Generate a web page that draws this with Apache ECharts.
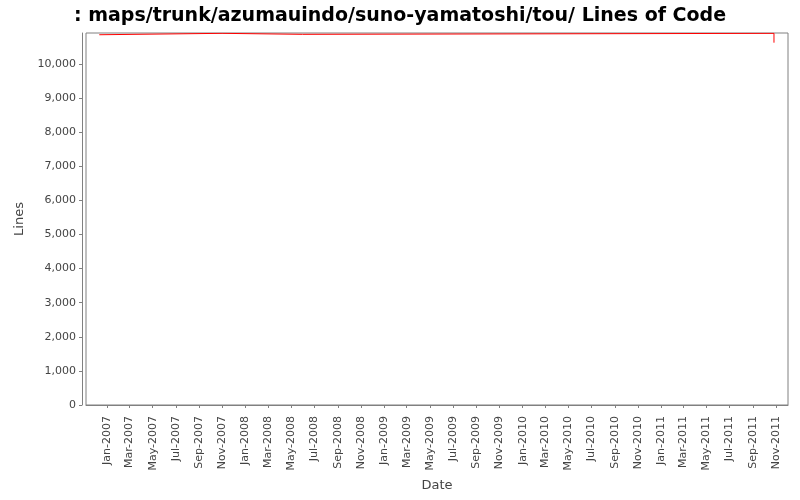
<!DOCTYPE html>
<html lang="en">
<head>
    <meta charset="utf-8">
    <title>Lines of Code</title>
    <script src="https://cdn.jsdelivr.net/npm/echarts@6/dist/echarts.min.js"></script>
    <style>
        html, body { margin: 0; padding: 0; background: #fff; }
        #chart { width: 800px; height: 500px; }
    </style>
</head>
<body>
<div id="chart"></div>
<script type="text/javascript">
    // 采样日期和代码行数
    var dates = ['2006-12-11', '2006-12-13', '2007-10-31', '2008-05-30', '2011-10-26'];
    var lines = [10858, 10899, 10870, 10899, 10625];

    // 横轴刻度
    var tickLabels = ['Jan-2007', 'Mar-2007', 'May-2007', 'Jul-2007', 'Sep-2007', 'Nov-2007',
        'Jan-2008', 'Mar-2008', 'May-2008', 'Jul-2008', 'Sep-2008', 'Nov-2008',
        'Jan-2009', 'Mar-2009', 'May-2009', 'Jul-2009', 'Sep-2009', 'Nov-2009',
        'Jan-2010', 'Mar-2010', 'May-2010', 'Jul-2010', 'Sep-2010', 'Nov-2010',
        'Jan-2011', 'Mar-2011', 'May-2011', 'Jul-2011', 'Sep-2011', 'Nov-2011'];

    var monthNames = ['Jan', 'Feb', 'Mar', 'Apr', 'May', 'Jun', 'Jul', 'Aug', 'Sep', 'Oct', 'Nov', 'Dec'];

    function labelToTime(s) {
        var p = s.split('-');
        return Date.UTC(+p[1], monthNames.indexOf(p[0]), 1);
    }
    function dateToTime(s) {
        var p = s.split('-');
        return Date.UTC(+p[0], +p[1] - 1, +p[2]);
    }
    function timeToLabel(t) {
        var d = new Date(t);
        return monthNames[d.getUTCMonth()] + '-' + d.getUTCFullYear();
    }

    var tickValues = tickLabels.map(labelToTime);
    var seriesData = dates.map(function (d, i) { return [dateToTime(d), lines[i]]; });

    var gray = '#808080';
    var textColor = '#444444';
    var fontFamily = 'DejaVu Sans';

    var myChart = echarts.init(document.getElementById('chart'), null, { renderer: 'canvas' });
    var option = {
        backgroundColor: '#ffffff',
        animation: false,
        title: {
            text: ': maps/trunk/azumauindo/suno-yamatoshi/tou/ Lines of Code',
            left: 'center',
            top: 2,
            textStyle: { fontFamily: fontFamily, fontSize: 19, fontWeight: 'bold', color: '#000' }
        },
        grid: {
            left: 86,
            right: 12,
            top: 33,
            bottom: 95,
            show: true,
            borderColor: gray,
            borderWidth: 1,
            backgroundColor: '#ffffff'
        },
        xAxis: {
            type: 'value',
            min: Date.UTC(2006, 10, 6),
            max: Date.UTC(2011, 11, 2),
            offset: 4,
            name: 'Date',
            nameLocation: 'middle',
            nameGap: 70,
            nameTextStyle: { fontFamily: fontFamily, fontSize: 13, color: textColor },
            axisLine: { show: true, lineStyle: { color: gray, width: 1 } },
            axisTick: { show: true, length: 3, customValues: tickValues, lineStyle: { color: gray } },
            axisLabel: {
                customValues: tickValues,
                rotate: 90,
                margin: 7,
                fontFamily: fontFamily,
                fontSize: 11,
                color: textColor,
                formatter: function (v) { return timeToLabel(v); }
            },
            splitLine: { show: false }
        },
        yAxis: {
            type: 'value',
            min: 0,
            max: 10909,
            interval: 1000,
            offset: 4,
            name: 'Lines',
            nameLocation: 'middle',
            nameGap: 56,
            nameTextStyle: { fontFamily: fontFamily, fontSize: 13, color: textColor },
            axisLine: { show: true, lineStyle: { color: gray, width: 1 } },
            axisTick: { show: true, length: 3, lineStyle: { color: gray } },
            axisLabel: {
                showMaxLabel: false,
                margin: 6,
                fontFamily: fontFamily,
                fontSize: 11,
                color: textColor,
                formatter: function (v) { return v.toLocaleString('en-US'); }
            },
            splitLine: { show: false }
        },
        series: [{
            type: 'line',
            step: 'end',
            data: seriesData,
            showSymbol: false,
            lineStyle: { color: '#ff0000', width: 1 },
            itemStyle: { color: '#ff0000' }
        }]
    };
    myChart.setOption(option);
</script>
</body>
</html>
